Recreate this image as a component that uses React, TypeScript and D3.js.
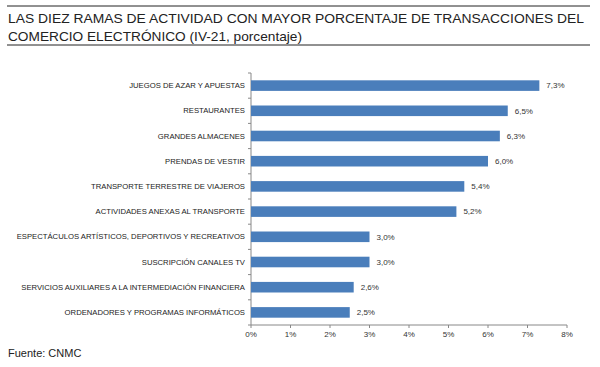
import React from "react";
import * as d3 from "d3";

const categories = [
  "JUEGOS DE AZAR Y APUESTAS",
  "RESTAURANTES",
  "GRANDES ALMACENES",
  "PRENDAS DE VESTIR",
  "TRANSPORTE TERRESTRE DE VIAJEROS",
  "ACTIVIDADES ANEXAS AL TRANSPORTE",
  "ESPECTÁCULOS ARTÍSTICOS, DEPORTIVOS Y RECREATIVOS",
  "SUSCRIPCIÓN CANALES TV",
  "SERVICIOS AUXILIARES A LA INTERMEDIACIÓN FINANCIERA",
  "ORDENADORES Y PROGRAMAS INFORMÁTICOS",
];
const values = [7.3, 6.5, 6.3, 6.0, 5.4, 5.2, 3.0, 3.0, 2.6, 2.5];
const xTicks = [0, 1, 2, 3, 4, 5, 6, 7, 8];

const titleLines = [
  "LAS DIEZ RAMAS DE ACTIVIDAD CON MAYOR PORCENTAJE DE TRANSACCIONES DEL",
  "COMERCIO ELECTRÓNICO (IV-21, porcentaje)",
];
const titleWidths = [576, 294];
const source = "Fuente: CNMC";

const W = 600;
const H = 367;
const font = "Arial, 'Liberation Sans', sans-serif";

export default function App() {
  const x = d3.scaleLinear().domain([0, 8]).range([251, 567]);
  const y = d3.scaleBand().domain(categories).range([73, 325]).paddingInner(0.58).paddingOuter(0.29);
  const band = d3.scaleBand().domain(categories).range([73, 325]);
  const fmt = (v: number) => d3.format(".1f")(v).replace(".", ",") + "%";

  return (
    <svg width={W} height={H} style={{ position: "absolute", left: 0, top: 0, background: "#fff" }}>
      <line x1={7} x2={590} y1={6} y2={6} stroke="#222" strokeWidth={1} />
      <line x1={7} x2={590} y1={45} y2={45} stroke="#222" strokeWidth={1} />
      {titleLines.map((t, i) => (
        <text
          key={i}
          x={8}
          y={23 + i * 18}
          fontFamily={font}
          fontSize={13.6}
          fill="#222"
          textLength={titleWidths[i]}
          lengthAdjust="spacingAndGlyphs"
        >
          {t}
        </text>
      ))}

      {/* y axis */}
      <line x1={x(0)} x2={x(0)} y1={73} y2={325} stroke="#888" />
      {[...categories.map((c) => band(c)!), 325].map((v, i) => (
        <line key={i} x1={x(0) - 3} x2={x(0)} y1={v} y2={v} stroke="#888" />
      ))}

      {/* x axis */}
      <line x1={x(0)} x2={x(8)} y1={325} y2={325} stroke="#888" />
      {xTicks.map((t) => (
        <g key={t}>
          <line x1={x(t)} x2={x(t)} y1={325} y2={328} stroke="#888" />
          <text x={x(t)} y={337} textAnchor="middle" fontFamily={font} fontSize={8} fill="#333">
            {t}%
          </text>
        </g>
      ))}

      {categories.map((c, i) => (
        <g key={c}>
          <rect x={x(0)} y={y(c)} width={x(values[i]) - x(0)} height={y.bandwidth()} fill="#4a7ebb" />
          <text
            x={x(0) - 6}
            y={y(c)! + y.bandwidth() / 2}
            dy="0.35em"
            textAnchor="end"
            fontFamily={font}
            fontSize={7.7}
            fill="#222"
          >
            {c}
          </text>
          <text
            x={x(values[i]) + 7}
            y={y(c)! + y.bandwidth() / 2}
            dy="0.35em"
            fontFamily={font}
            fontSize={8}
            fill="#333"
          >
            {fmt(values[i])}
          </text>
        </g>
      ))}

      <text x={8} y={357} fontFamily={font} fontSize={11} fill="#222">
        {source}
      </text>
    </svg>
  );
}
